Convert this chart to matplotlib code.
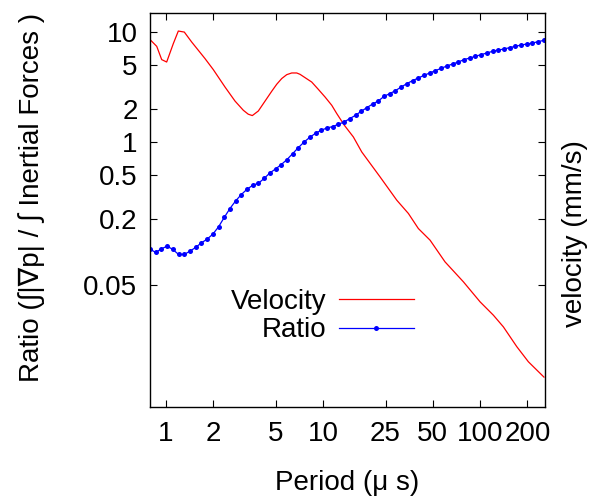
import matplotlib
matplotlib.use("Agg")
import matplotlib.pyplot as plt
from matplotlib.ticker import FixedLocator, NullLocator, FixedFormatter

plt.rcParams['font.family'] = ['Liberation Sans', 'DejaVu Sans']

# Velocity curve (red)
vel_period = [0.791, 0.873, 0.939, 1.01, 1.113, 1.198, 1.308, 1.458, 1.772, 2.001,
              2.376, 2.751, 3.108, 3.34, 3.546, 3.872, 4.712, 5.07, 5.458, 5.87,
              6.318, 6.80, 7.137, 8.472, 9.33, 10.30, 11.36, 12.23, 13.67, 15.6,
              17.64, 23.07, 29.48, 34.94, 40.45, 48.03, 59.8, 78.3, 100.0, 121.5,
              140.7, 171.3, 203.0, 255.0]
velocity = [8.6, 7.46, 5.65, 5.37, 7.89, 10.28, 10.06, 8.16, 5.77, 4.58,
            3.18, 2.37, 1.954, 1.80, 1.749, 1.925, 2.91, 3.37, 3.80, 4.12,
            4.27, 4.27, 4.15, 3.53, 3.03, 2.58, 2.17, 1.823, 1.427, 1.117,
            0.816, 0.484, 0.297, 0.225, 0.164, 0.1285, 0.0816, 0.0537, 0.0353, 0.0267,
            0.0209, 0.0138, 0.01006, 0.0073]

# Ratio curve (blue, with points)
ratio_period = [0.791, 0.860, 0.935, 1.017, 1.106, 1.202, 1.307, 1.421, 1.545, 1.680,
                1.827, 1.986, 2.160, 2.348, 2.553, 2.776, 3.018, 3.282, 3.568, 3.880,
                4.219, 4.587, 4.987, 5.423, 5.896, 6.411, 6.971, 7.579, 8.241, 8.960,
                9.742, 10.59, 11.52, 12.52, 13.62, 14.81, 16.10, 17.51, 19.03, 20.70,
                22.50, 24.47, 26.60, 28.93, 31.45, 34.20, 37.18, 40.43, 43.96, 47.80,
                51.97, 56.51, 61.44, 66.80, 72.64, 78.98, 85.87, 93.37, 101.5, 110.4,
                120.0, 130.5, 141.9, 154.3, 167.7, 182.4, 198.3, 215.6, 234.4, 254.9]
ratio = [0.1065, 0.0994, 0.1072, 0.1134, 0.1058, 0.0953, 0.0953, 0.1021, 0.1105, 0.1215,
         0.1313, 0.1458, 0.1698, 0.2067, 0.2495, 0.2926, 0.3346, 0.3737, 0.4065, 0.4239,
         0.4688, 0.526, 0.5718, 0.627, 0.6964, 0.7895, 0.8949, 1.006, 1.110, 1.207,
         1.286, 1.349, 1.389, 1.458, 1.529, 1.642, 1.760, 1.913, 2.068, 2.229,
         2.374, 2.619, 2.771, 2.951, 3.182, 3.417, 3.639, 3.842, 4.066, 4.266,
         4.486, 4.708, 4.940, 5.151, 5.370, 5.647, 5.840, 6.051, 6.270, 6.484,
         6.720, 6.905, 7.051, 7.261, 7.461, 7.667, 7.830, 7.995, 8.233, 8.459]

x_ticks = [1, 2, 5, 10, 25, 50, 100, 200]
x_tick_labels = ["1", "2", "5", "10", "25", "50", "100", "200"]
y_ticks = [0.05, 0.2, 0.5, 1, 2, 5, 10]
y_tick_labels = ["0.05", "0.2", "0.5", "1", "2", "5", "10"]

FS = 20

fig = plt.figure(figsize=(6.0, 4.97), dpi=100)
ax = fig.add_axes([150/600, 1 - 407/497, (545-150)/600, (407-13)/497])

ax.plot(vel_period, velocity, color='red', lw=0.9, label='Velocity')
ax.plot(ratio_period, ratio, color='blue', lw=0.9, marker='o', ms=3.6,
        markeredgewidth=0, label='Ratio')

ax.set_xscale('log')
ax.set_yscale('log')
ax.set_xlim(0.791, 259)
ax.set_ylim(0.0039, 15)

ax.xaxis.set_major_locator(FixedLocator(x_ticks))
ax.xaxis.set_major_formatter(FixedFormatter(x_tick_labels))
ax.xaxis.set_minor_locator(NullLocator())
ax.yaxis.set_major_locator(FixedLocator(y_ticks))
ax.yaxis.set_major_formatter(FixedFormatter(y_tick_labels))
ax.yaxis.set_minor_locator(NullLocator())

ax.tick_params(which='both', direction='in', top=True, right=True,
               length=5, width=0.8, labelsize=FS)
ax.tick_params(axis='x', pad=10)
ax.tick_params(axis='y', pad=9)
for s in ax.spines.values():
    s.set_linewidth(1.0)

ax.set_xlabel('Period (μ s)', fontsize=FS, labelpad=17)
fig.text(32/600, 1 - 197/497, 'Ratio (∫|∇p| / ∫ Inertial Forces )', rotation=90,
         ha='center', va='center', fontsize=FS)
fig.text(575/600, 1 - 234/497, 'velocity (mm/s)', rotation=90,
         ha='center', va='center', fontsize=FS)

leg = ax.legend(loc='center', bbox_to_anchor=((322-150)/395, (407-316)/394),
                frameon=False, markerfirst=False, fontsize=FS, numpoints=1,
                handlelength=2.7, handletextpad=0.45, labelspacing=0.1)

fig.savefig('out.png', dpi=100)
